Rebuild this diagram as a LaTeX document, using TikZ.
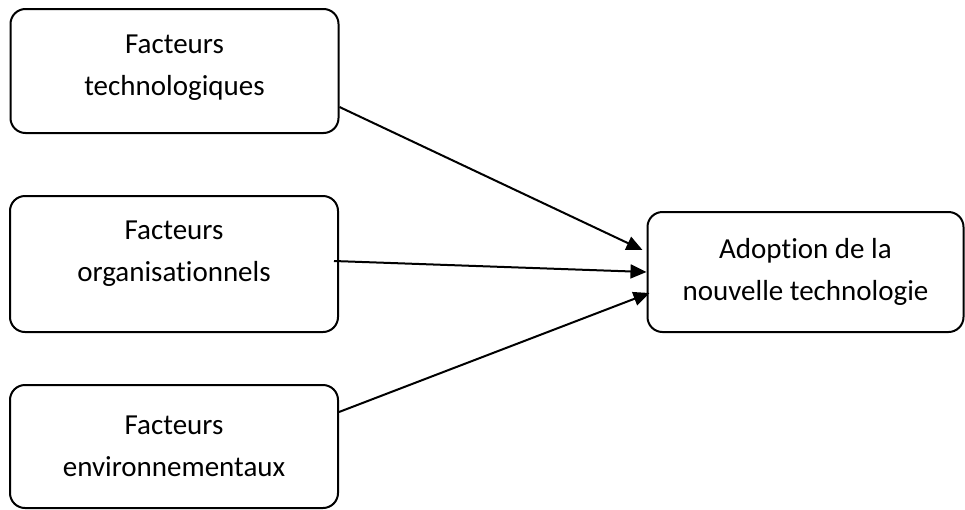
\documentclass[tikz,border=0pt]{standalone}
\usepackage{fontspec}
\setmainfont{Carlito}[Ligatures={NoCommon}]
\usetikzlibrary{arrows.meta}
\begin{document}
\begin{tikzpicture}[x=1pt,y=-1pt,
  box/.style={draw, line width=2pt, rounded corners=15pt, inner sep=0pt},
  lbl/.style={align=center, font=\fontsize{29}{42}\selectfont, inner sep=0pt},
  link/.style={line width=2pt, -{Triangle[length=16pt,width=14pt]}}]
  \useasboundingbox (0,0) rectangle (965,509);
  % factor boxes
  \node[box, minimum width=328pt, minimum height=124pt] (tech) at (174.5,71) {};
  \node[box, minimum width=328pt, minimum height=136pt] (org) at (174,264) {};
  \node[box, minimum width=328pt, minimum height=123pt] (env) at (174,446.5) {};
  % outcome box
  \node[box, minimum width=316pt, minimum height=120pt] (adopt) at (805.5,272) {};
  % labels
  \node[lbl] (techtxt) at ([yshift=3pt]tech.center) {Facteurs\\technologiques};
  \node[lbl] (orgtxt) at ([yshift=10pt]org.center) {Facteurs\\organisationnels};
  \node[lbl] (envtxt) at (env.center) {Facteurs\\environnementaux};
  \node[lbl] (adopttxt) at (adopt.center) {Adoption de la\\nouvelle technologie};
  % influences
  \draw[link] ([yshift=-36pt]tech.east) -- ([xshift=-4pt,yshift=22pt]adopt.west);
  \draw[link] ([xshift=-5pt,yshift=3pt]org.east) -- (adopt.west);
  \draw[link] ([yshift=34.5pt]env.east) -- ([xshift=3pt,yshift=-21pt]adopt.west);
\end{tikzpicture}
\end{document}
